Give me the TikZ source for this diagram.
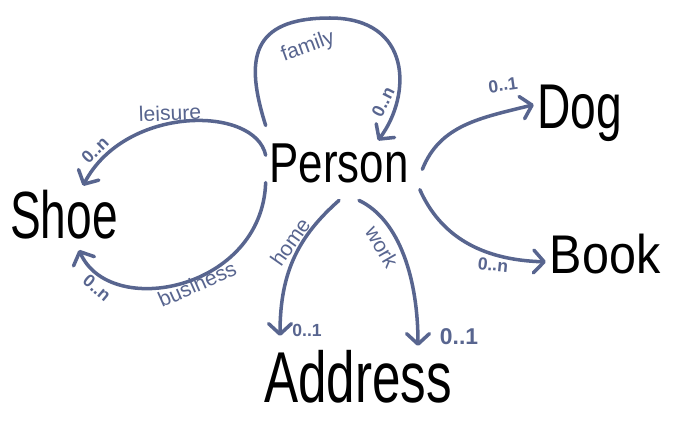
\documentclass[tikz,border=0pt]{standalone}
\usepackage{fontspec}
\setmainfont{Liberation Sans}
\usepackage{tikz}
\usetikzlibrary{arrows.meta}
\definecolor{linkblue}{RGB}{88,101,143}
\newcommand{\hand}[3]{{\fontsize{#1}{#1}\selectfont\scalebox{#2}[1]{#3}}}

\begin{document}
\begin{tikzpicture}[x=0.02cm,y=-0.02cm,
  entity/.style={anchor=base,inner sep=2pt,text=black},
  link/.style={draw=linkblue,line width=2pt,line cap=round,-{Straight Barb[length=6pt,width=13pt,round]}},
  role/.style={text=linkblue,font=\fontsize{12}{12}\selectfont},
  mult/.style={text=linkblue,font=\bfseries\fontsize{10}{10}\selectfont}]
\useasboundingbox (0,0) rectangle (675,423);
\node[entity,inner ysep=0.35cm] (person) at (339,182) {\hand{32}{0.78}{Person}};
\node[entity] (shoe) at (64,238) {\hand{38}{0.69}{Shoe}};
\node[entity] (dog) at (580,128) {\hand{36}{0.73}{Dog}};
\node[entity] (book) at (605,273) {\hand{31}{0.89}{Book}};
\node[entity] (address) at (358,402) {\hand{41}{0.71}{Address}};
\draw[link] (person.north west) .. controls (245,60) and (250,18) .. (330,18)
  .. controls (412,18) and (412,95) .. ([xshift=0.78cm,yshift=-0.3cm]person.north);
\draw[link] (person.174) .. controls (255,105) and (125,105) .. ([xshift=0.38cm]shoe.north);
\draw[link] (person.195) .. controls (262,290) and (110,320) .. ([xshift=0.3cm,yshift=-0.15cm]shoe.south);
\draw[link] ([xshift=0.2cm]person.-5) .. controls (440,125) and (480,118) .. (dog.170);
\draw[link] ([xshift=0.15cm]person.-20) .. controls (440,235) and (480,260) .. (book.188);
\draw[link] (person.south) .. controls (300,235) and (280,270) .. ([xshift=-1.56cm,yshift=0.2cm]address.north);
\draw[link] ([xshift=0.4cm]person.south) .. controls (400,220) and (418,280) .. ([xshift=1.2cm]address.north);
\node[role,rotate=20] (famlbl) at (308,47) {family};
\node[mult,rotate=63] (fammult) at (383,102) {0..n};
\node[role,rotate=2] (leilbl) at (170,113) {leisure};
\node[mult,rotate=45] (leimult) at (95,150) {0..n};
\node[role,rotate=24] (buslbl) at (197,284) {business};
\node[mult,rotate=-40] (busmult) at (97,288) {0..n};
\node[mult,rotate=8] (dogmult) at (503,85) {0..1};
\node[mult,rotate=-6] (bookmult) at (493,265) {0..n};
\node[role,rotate=55] (homelbl) at (290,242) {home};
\node[mult] (homemult) at (307,330) {0..1};
\node[role,rotate=-60] (worklbl) at (382,247) {work};
\node[mult,font=\bfseries\fontsize{13}{13}\selectfont] (workmult) at (459,337) {0..1};
\end{tikzpicture}
\end{document}
